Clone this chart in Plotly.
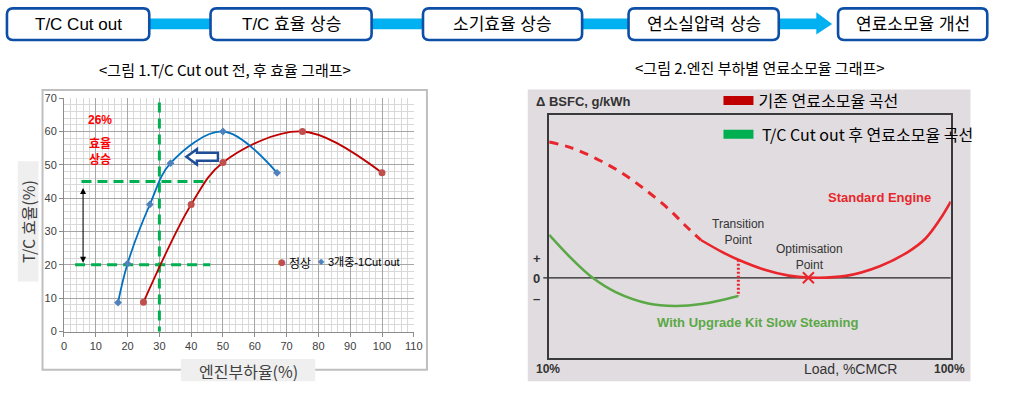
import plotly.graph_objects as go

W, H = 1019, 397
def px(x): return x / W
def py(y): return 1 - y / H

FONT = "Liberation Sans, Arial, Noto Sans CJK KR, sans-serif"
KFONT = "Noto Sans CJK KR, Liberation Sans, sans-serif"
NFONT = "Liberation Sans Narrow, Liberation Sans, Noto Sans CJK KR, sans-serif"

# ---------------- data ----------------
flow_labels = ["T/C Cut out", "T/C 효율 상승", "소기효율 상승", "연소실압력 상승", "연료소모율 개선"]

title_left = "&lt;그림 1.T/C Cut out 전, 후 효율 그래프&gt;"
title_right = "&lt;그림 2.엔진 부하별 연료소모율 그래프&gt;"

# Fig 1: T/C efficiency vs engine load
series_names = ["정상", "3개중-1Cut out"]
load_normal = [25, 40, 50, 75, 100]
eff_normal = [8.8, 38.1, 50.7, 60.0, 47.6]
load_cutout = [17, 20, 27, 33.5, 50, 67]
eff_cutout = [8.7, 20.4, 38.1, 50.5, 60.0, 47.6]
guide_load = 30
guide_eff_low = 20
guide_eff_high = 45
gain_text = "26%"

# Fig 2: delta BSFC vs load (arbitrary units)
bsfc_dash_load = [10, 15, 20.5, 26, 31.5, 37, 40.5, 44]
bsfc_dash_delta = [14.0, 13.4, 12.3, 10.9, 9.1, 7.0, 5.4, 3.9]
bsfc_std_load = [44, 48.6, 52.4, 58.1, 63.7, 68.1, 76.5, 84.1, 90.3, 94.3, 97.6, 100]
bsfc_std_delta = [3.9, 2.7, 1.86, 0.86, 0.23, 0.03, 0.2, 1.2, 2.63, 4.03, 6.03, 7.86]
bsfc_kit_load = [10, 14.9, 19.75, 24.9, 32.2, 38.2, 44.1, 52.4]
bsfc_kit_delta = [4.43, 2.03, 0, -1.47, -2.64, -2.9, -2.7, -1.87]
transition_load = 52.4
optimum_load = 68.1
legend2_names = ["기존 연료소모율 곡선", " T/C Cut out 후 연료소모율 곡선"]

# ---------------- colors ----------------
RED_L = "#c00000"; RED_M = "#c0504d"
BLUE_L = "#0070c0"; BLUE_M = "#4f81bd"
GUIDE = "#00b050"
STD_RED = "#e8262c"; KIT_GREEN = "#5aa846"
BOX_BLUE = "#0d4ea6"; BAR_BLUE = "#00b0f0"

fig = go.Figure()

# ---------- left chart traces ----------
dash_style = dict(color=GUIDE, width=3, dash="10px,6px")
fig.add_trace(go.Scatter(x=[guide_load, guide_load], y=[-1.5, 69], mode="lines", line=dash_style,
                         showlegend=False, cliponaxis=False, xaxis="x", yaxis="y"))
fig.add_trace(go.Scatter(x=[5.5, 46], y=[guide_eff_high, guide_eff_high], mode="lines",
                         line=dash_style, showlegend=False, xaxis="x", yaxis="y"))
fig.add_trace(go.Scatter(x=[3.5, 46], y=[guide_eff_low, guide_eff_low], mode="lines",
                         line=dash_style, showlegend=False, xaxis="x", yaxis="y"))
fig.add_trace(go.Scatter(x=load_normal, y=eff_normal, name=series_names[0], mode="lines+markers",
                         line=dict(color=RED_L, width=1.8, shape="spline", smoothing=1),
                         marker=dict(color=RED_M, size=7, symbol="circle"),
                         showlegend=False, xaxis="x", yaxis="y"))
fig.add_trace(go.Scatter(x=load_cutout, y=eff_cutout, name=series_names[1], mode="lines+markers",
                         line=dict(color=BLUE_L, width=1.8, shape="spline", smoothing=1),
                         marker=dict(color=BLUE_M, size=6, symbol="diamond"),
                         showlegend=False, xaxis="x", yaxis="y"))

# ---------- right chart traces ----------
fig.add_trace(go.Scatter(x=bsfc_dash_load, y=bsfc_dash_delta, mode="lines",
                         line=dict(color=STD_RED, width=3, dash="9px,7px", shape="spline"),
                         showlegend=False, xaxis="x2", yaxis="y2"))
fig.add_trace(go.Scatter(x=bsfc_std_load, y=bsfc_std_delta, mode="lines",
                         line=dict(color=STD_RED, width=2.6, shape="spline"),
                         showlegend=False, xaxis="x2", yaxis="y2"))
fig.add_trace(go.Scatter(x=bsfc_kit_load, y=bsfc_kit_delta, mode="lines",
                         line=dict(color=KIT_GREEN, width=2.6, shape="spline"),
                         showlegend=False, xaxis="x2", yaxis="y2"))
fig.add_trace(go.Scatter(x=[transition_load, transition_load],
                         y=[bsfc_std_delta[2], bsfc_kit_delta[-1]], mode="lines",
                         line=dict(color=STD_RED, width=3, dash="2px,2px"),
                         showlegend=False, xaxis="x2", yaxis="y2"))
fig.add_trace(go.Scatter(x=[optimum_load], y=[0], mode="markers",
                         marker=dict(symbol="x-thin", size=11, line=dict(color=STD_RED, width=2)),
                         showlegend=False, xaxis="x2", yaxis="y2"))
# legend entries for fig 2
fig.add_trace(go.Scatter(x=[None], y=[None], mode="lines", name=legend2_names[0],
                         line=dict(color="#c00000", width=9), legend="legend2",
                         legendgroup="a", xaxis="x2", yaxis="y2"))
fig.add_trace(go.Scatter(x=[None], y=[None], mode="lines", name=legend2_names[1],
                         line=dict(color="#00b050", width=9), legend="legend2",
                         legendgroup="b", xaxis="x2", yaxis="y2"))

shapes = []
annotations = []

def ann(text, x, y, size, color="#000000", family=FONT, xanchor="center", yanchor="middle", **kw):
    annotations.append(dict(text=text, x=px(x), y=py(y), xref="paper", yref="paper",
                            xanchor=xanchor, yanchor=yanchor, showarrow=False,
                            font=dict(size=size, color=color, family=family), **kw))

def rrect(x0, y0, x1, y1, r):
    X0, X1, Y0, Y1 = px(x0), px(x1), py(y0), py(y1)
    rx, ry = r / W, r / H
    return (f"M {X0+rx},{Y0} L {X1-rx},{Y0} Q {X1},{Y0} {X1},{Y0-ry} "
            f"L {X1},{Y1+ry} Q {X1},{Y1} {X1-rx},{Y1} L {X0+rx},{Y1} "
            f"Q {X0},{Y1} {X0},{Y1+ry} L {X0},{Y0-ry} Q {X0},{Y0} {X0+rx},{Y0} Z")

# ---------- header flow ----------
box_left = [4, 210, 425, 633, 845]
box_right = [148, 373, 586, 785, 996]
shapes.append(dict(type="rect", xref="paper", yref="paper", x0=px(148), x1=px(824),
                   y0=py(24), y1=py(13), fillcolor=BAR_BLUE, line=dict(width=0), layer="above"))
shapes.append(dict(type="path", xref="paper", yref="paper",
                   path=f"M {px(823)},{py(6.5)} L {px(839)},{py(18.5)} L {px(823)},{py(29.5)} Z",
                   fillcolor=BAR_BLUE, line=dict(width=0), layer="above"))
for lab, l, r in zip(flow_labels, box_left, box_right):
    shapes.append(dict(type="path", xref="paper", yref="paper", path=rrect(l, 2.5, r, 35, 6),
                       fillcolor="white", line=dict(color=BOX_BLUE, width=2.6), layer="above"))
    ann(lab, (l + r) / 2, 19, 17, "#000000")

# ---------- left chart decorations ----------
shapes.append(dict(type="rect", xref="paper", yref="paper", x0=px(40), x1=px(429),
                   y0=py(375), y1=py(86.5), fillcolor="white",
                   line=dict(color="#bfbfbf", width=2), layer="below"))
shapes.append(dict(type="rect", xref="paper", yref="paper", x0=px(15), x1=px(36),
                   y0=py(284), y1=py(160), fillcolor="#efefef", line=dict(width=0), layer="below"))
shapes.append(dict(type="rect", xref="paper", yref="paper", x0=px(180), x1=px(316),
                   y0=py(387), y1=py(364), fillcolor="#efefef", line=dict(width=0), layer="below"))
# white label box and legend box
shapes.append(dict(type="rect", xref="paper", yref="paper", x0=px(68), x1=px(128),
                   y0=py(175), y1=py(105), fillcolor="white", line=dict(width=0), layer="between"))
shapes.append(dict(type="rect", xref="paper", yref="paper", x0=px(268), x1=px(405),
                   y0=py(282), y1=py(243), fillcolor="white", line=dict(width=0), layer="between"))
# hollow blue arrow pointing left
shapes.append(dict(type="path", xref="x", yref="y",
                   path="M 38.5,52.4 L 41.8,54.7 L 41.8,53.6 L 48.4,53.6 L 48.4,51.2 L 41.8,51.2 L 41.8,50.1 Z",
                   fillcolor="white", line=dict(color="#1f4e99", width=2.5), layer="above"))

ann(title_left, 225, 65, 15, "#000000", family=KFONT)
ann("T/C 효율(%)", 26, 222, 16, "#404040", family=KFONT, textangle=-90)
ann("엔진부하율(%)", 248, 376, 16, "#404040", family=KFONT)
ann(f"<b>{gain_text}</b>", 98, 118, 12, "#ff0000")
ann("<b>효율<br>상승</b>", 98, 149, 12, "#ff0000", family=KFONT)
# manual legend (fig 1)
ann("●", 282.5, 263.5, 9, RED_M, family="DejaVu Sans")
ann(series_names[0], 287, 264, 12, "#000000", family=KFONT, xanchor="left")
ann("◆", 322.5, 263.5, 8, BLUE_M, family="DejaVu Sans")
ann(series_names[1], 327, 264, 11, "#000000", family=NFONT, xanchor="left")
# double arrow
annotations.append(dict(x=6, y=20.6, ax=6, ay=43.5, xref="x", yref="y", axref="x", ayref="y",
                        text="", showarrow=True, arrowhead=2, arrowside="end+start",
                        arrowsize=1.2, arrowwidth=1, arrowcolor="#000000"))

# ---------- right chart decorations ----------
shapes.append(dict(type="rect", xref="paper", yref="paper", x0=px(531), x1=px(979),
                   y0=py(387), y1=py(86), fillcolor="#e1dcdf", line=dict(width=0), layer="below"))
shapes.append(dict(type="line", xref="paper", yref="y2", x0=px(546.7), x1=px(959), y0=0, y1=0,
                   line=dict(color="#222222", width=1.2), layer="below"))

ann(title_right, 766, 63, 15, "#000000", family=KFONT)
ann("<b>Δ BSFC, g/kWh</b>", 537, 98, 13, "#333333", xanchor="left")
ann("<b>Standard Engine</b>", 887, 197, 13, STD_RED)
ann("Transition<br>Point", 744, 233, 12, "#333333")
ann("Optimisation<br>Point", 816, 259, 12, "#333333")
ann("<b>With Upgrade Kit Slow Steaming</b>", 763, 326, 13, KIT_GREEN)
ann("<b>+</b>", 540, 260.5, 13, "#333333")
ann("<b>0</b>", 540, 280.5, 13, "#333333")
ann("<b>–</b>", 540, 301.5, 13, "#333333")
ann("<b>10%</b>", 552, 374, 12, "#333333")
ann("Load, %CMCR", 858, 374, 14, "#333333")
ann("<b>100%</b>", 958, 374, 12, "#333333")

fig.update_layout(
    width=W, height=H, margin=dict(l=0, r=0, t=0, b=0),
    paper_bgcolor="white", plot_bgcolor="rgba(0,0,0,0)",
    font=dict(family=FONT),
    shapes=shapes, annotations=annotations,
    xaxis=dict(domain=[px(61.7), px(415.7)], range=[0, 110], dtick=10, tick0=0,
               showgrid=True, gridcolor="#a6a6a6", gridwidth=1,
               minor=dict(dtick=2, showgrid=True, gridcolor="#d9d9d9", gridwidth=1),
               showline=True, linecolor="#8c8c8c", linewidth=1, ticks="outside", ticklen=4,
               tickcolor="#8c8c8c", tickfont=dict(size=11, color="#404040"),
               zeroline=False, fixedrange=True, anchor="y"),
    yaxis=dict(domain=[py(335.7), py(95)], range=[0, 70], dtick=10, tick0=0,
               showgrid=True, gridcolor="#a6a6a6", gridwidth=1,
               minor=dict(dtick=2, showgrid=True, gridcolor="#d9d9d9", gridwidth=1),
               showline=True, linecolor="#8c8c8c", linewidth=1, ticks="outside", ticklen=4,
               tickcolor="#8c8c8c", tickfont=dict(size=11, color="#404040"),
               zeroline=False, fixedrange=True, anchor="x"),
    xaxis2=dict(domain=[px(552.7), px(959)], range=[10, 100], showgrid=False, zeroline=False,
                showticklabels=False, ticks="", showline=True, mirror=True,
                linecolor="#3a3a3a", linewidth=1.6, anchor="y2"),
    yaxis2=dict(domain=[py(362.7), py(112.7)], range=[-8.24, 16.76], showgrid=False,
                zeroline=False, showticklabels=False, ticks="", showline=True, mirror=True,
                linecolor="#3a3a3a", linewidth=1.6, anchor="x2"),
    legend2=dict(x=px(724), y=py(80), xanchor="left", yanchor="top", orientation="v",
                 bgcolor="rgba(0,0,0,0)", font=dict(size=16, color="#000000", family=KFONT),
                 itemwidth=30, tracegroupgap=10),
)

fig.write_html("out.html", config={"displayModeBar": False},
               post_script="document.body.style.margin='0px';document.body.style.overflow='hidden';")
